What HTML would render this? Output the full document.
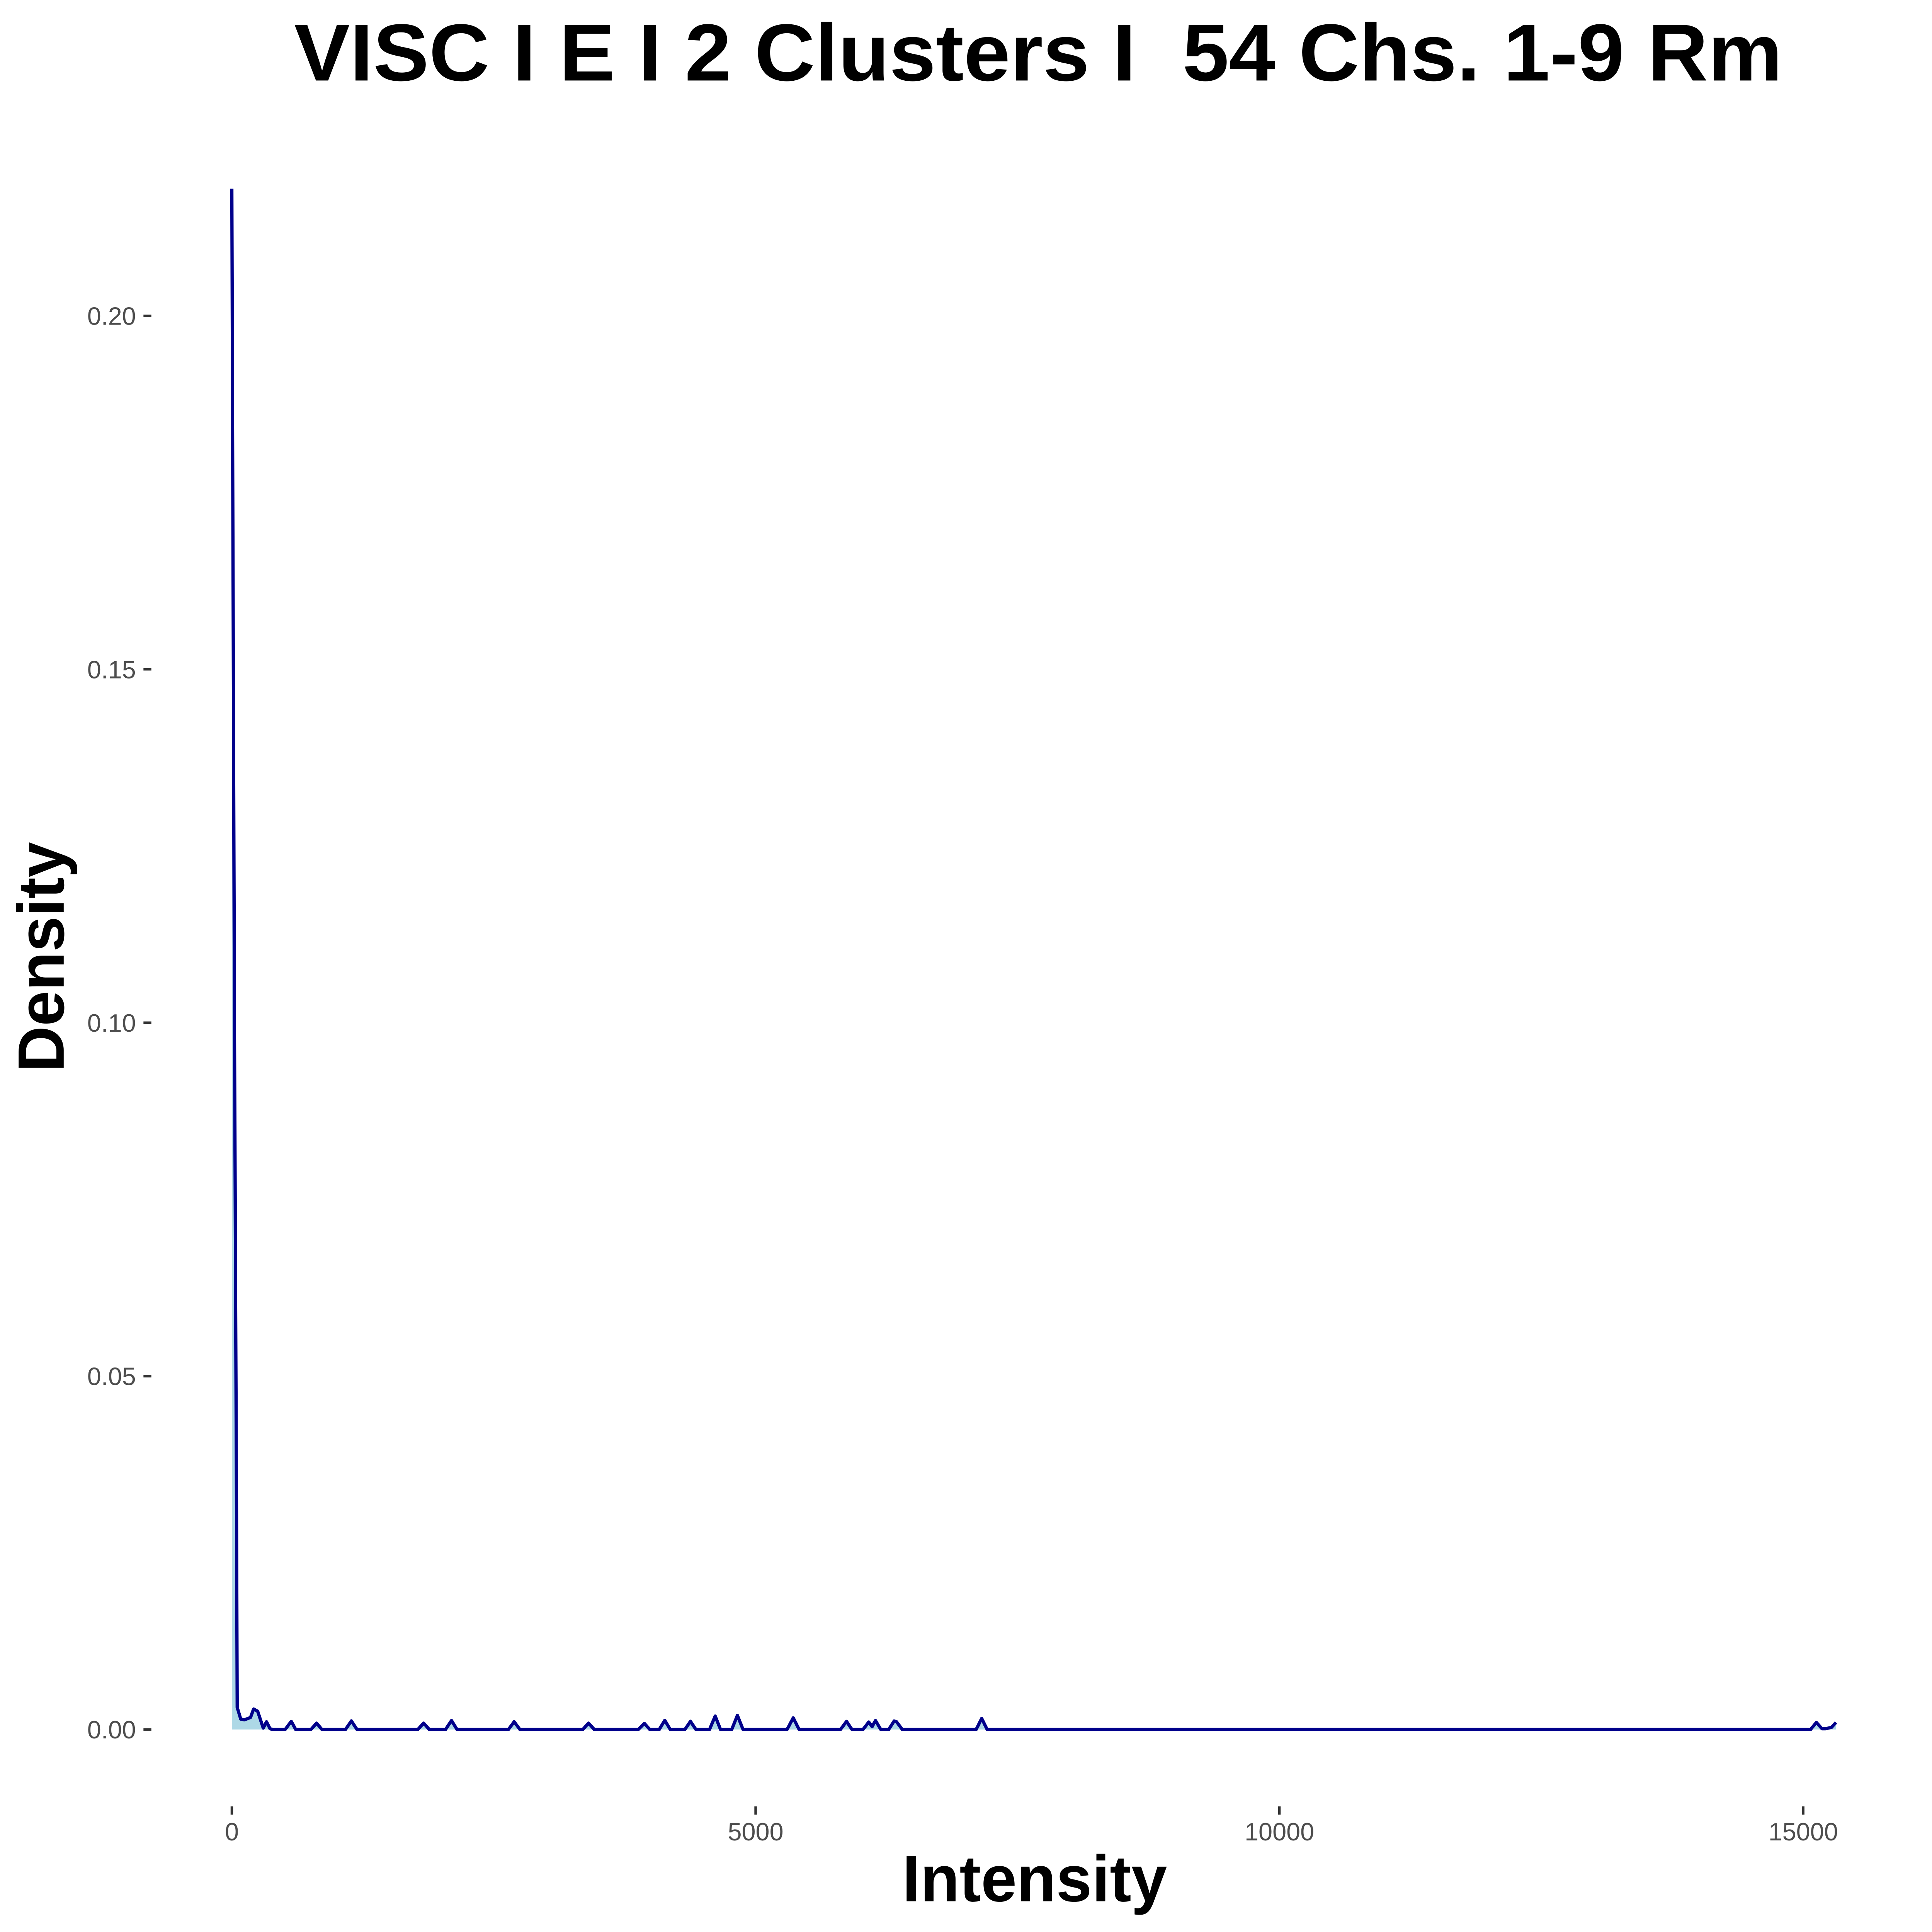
<!DOCTYPE html>
<html>
<head>
<meta charset="utf-8">
<style>
html,body{margin:0;padding:0;background:#fff;width:100%;height:100%;overflow:hidden;}
svg{display:block;position:fixed;left:0;top:0;width:100vw;height:100vh;}
text{font-family:"Liberation Sans",Arial,sans-serif;}
</style>
</head>
<body>
<svg id="chart" viewBox="0 0 5400 5400" preserveAspectRatio="xMidYMid meet" xmlns="http://www.w3.org/2000/svg">
  <rect x="0" y="0" width="5400" height="5400" fill="#ffffff"/>
  <text x="2902" y="225" text-anchor="middle" font-size="226" font-weight="bold" fill="#000" textLength="4160" lengthAdjust="spacingAndGlyphs" style="white-space:pre" xml:space="preserve">VISC I E I 2 Clusters I  54 Chs. 1-9 Rm</text>
  <text x="2892" y="5314" text-anchor="middle" font-size="183" font-weight="bold" fill="#000" textLength="740" lengthAdjust="spacingAndGlyphs">Intensity</text>
  <text x="0" y="0" transform="translate(178,2675) rotate(-90)" text-anchor="middle" font-size="183" font-weight="bold" fill="#000" textLength="643" lengthAdjust="spacingAndGlyphs">Density</text>
  <g id="yaxis"></g>
  <g id="xaxis"></g>
  <g id="plot"></g>
</svg>
<script>
const intensity = [0, 25, 45, 51, 85, 120, 178, 208, 246, 300, 331, 365, 393, 509, 567, 610, 755, 809, 860, 1085, 1141, 1195, 1775, 1831, 1885, 2040, 2097, 2150, 2640, 2695, 2750, 3350, 3405, 3460, 3880, 3938, 3990, 4080, 4133, 4185, 4325, 4378, 4430, 4560, 4614, 4665, 4772, 4826, 4880, 5300, 5359, 5415, 5810, 5868, 5920, 6025, 6080, 6112, 6144, 6195, 6270, 6322, 6345, 6400, 7105, 7158, 7210, 15070, 15126, 15180, 15211, 15270, 15313];
const density = [0.218, 0.1, 0.03, 0.00314, 0.00147, 0.00137, 0.0017, 0.0029, 0.0026, 0.0002, 0.0011, 0.0001, 0, 0, 0.00115, 0, 0, 0.0009, 0, 0, 0.00122, 0, 0, 0.0009, 0, 0, 0.00127, 0, 0, 0.0011, 0, 0, 0.0009, 0, 0, 0.00086, 0, 0, 0.0013, 0, 0, 0.00116, 0, 0, 0.0019, 0, 0, 0.002, 0, 0, 0.00165, 0, 0, 0.00115, 0, 0, 0.00106, 0.0004, 0.00127, 0, 0, 0.0012, 0.0011, 0, 0, 0.00157, 0, 0, 0.001, 0.0001, 0.0001, 0.0003, 0.001];
const xTicks = [0, 5000, 10000, 15000];
const xTickLabels = ["0", "5000", "10000", "15000"];
const yTicks = [0, 0.05, 0.10, 0.15, 0.20];
const yTickLabels = ["0.00", "0.05", "0.10", "0.15", "0.20"];

const NS = "http://www.w3.org/2000/svg";
function xScale(v){ return 648 + v * (5040 - 648) / 15000; }
function yScale(v){ return 4834 - v * (4834 - 883) / 0.20; }

const plot = document.getElementById('plot');
const xaxis = document.getElementById('xaxis');
const yaxis = document.getElementById('yaxis');

const n = Math.min(intensity.length, density.length);
let fd = 'M' + xScale(intensity[0]) + ',' + yScale(0);
for (let i = 0; i < n; i++) fd += ' L' + xScale(intensity[i]) + ',' + yScale(density[i]);
fd += ' L' + xScale(intensity[n-1]) + ',' + yScale(0) + ' Z';
const area = document.createElementNS(NS, 'path');
area.setAttribute('d', fd);
area.setAttribute('fill', '#add8e6');


plot.appendChild(area);

let ld = '';
for (let i = 0; i < n; i++) ld += (i ? ' L' : 'M') + xScale(intensity[i]) + ',' + yScale(density[i]);
const line = document.createElementNS(NS, 'path');
line.setAttribute('d', ld);
line.setAttribute('fill', 'none');
line.setAttribute('stroke', '#00008b');
line.setAttribute('stroke-width', '9');
line.setAttribute('stroke-linejoin', 'round');


plot.appendChild(line);

for (let i = 0; i < yTicks.length; i++) {
  const y = yScale(yTicks[i]);
  const t = document.createElementNS(NS, 'line');
  t.setAttribute('x1', 401); t.setAttribute('x2', 423);
  t.setAttribute('y1', y); t.setAttribute('y2', y);
  t.setAttribute('stroke', '#333333'); t.setAttribute('stroke-width', '7');
  
  
  yaxis.appendChild(t);
  const lb = document.createElementNS(NS, 'text');
  lb.setAttribute('x', 380); lb.setAttribute('y', y + 25);
  lb.setAttribute('text-anchor', 'end'); lb.setAttribute('font-size', '70');
  lb.setAttribute('fill', '#4d4d4d');
  
  
  lb.textContent = yTickLabels[i];
  yaxis.appendChild(lb);
}
for (let i = 0; i < xTicks.length; i++) {
  const x = xScale(xTicks[i]);
  const t = document.createElementNS(NS, 'line');
  t.setAttribute('x1', x); t.setAttribute('x2', x);
  t.setAttribute('y1', 5049); t.setAttribute('y2', 5072);
  t.setAttribute('stroke', '#333333'); t.setAttribute('stroke-width', '7');
  
  
  xaxis.appendChild(t);
  const lb = document.createElementNS(NS, 'text');
  lb.setAttribute('x', x); lb.setAttribute('y', 5144);
  lb.setAttribute('text-anchor', 'middle'); lb.setAttribute('font-size', '70');
  lb.setAttribute('fill', '#4d4d4d');
  
  
  lb.textContent = xTickLabels[i];
  xaxis.appendChild(lb);
}
</script>
</body>
</html>
